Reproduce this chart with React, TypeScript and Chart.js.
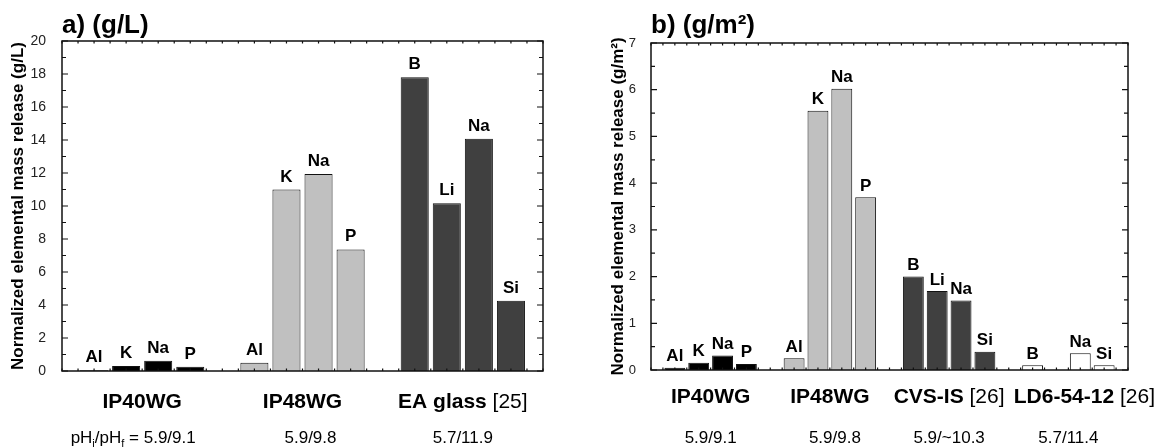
import React, { useEffect, useRef } from 'react';
import { Chart, registerables } from 'chart.js';

Chart.register(...registerables);

const FONT = "'Liberation Sans', Arial, Helvetica, sans-serif";

// ---------------- data: panel a) (g/L) ----------------
const leftGroups = ['IP40WG', 'IP48WG', 'EA glass'];
const leftRefs = ['', '', '[25]'];
const leftPh = ['5.9/9.1', '5.9/9.8', '5.7/11.9'];
const leftElements = [
  ['Al', 'K', 'Na', 'P'],
  ['Al', 'K', 'Na', 'P'],
  ['B', 'Li', 'Na', 'Si'],
];
const leftValues = [
  [0.05, 0.3, 0.62, 0.26],
  [0.5, 11.0, 11.94, 7.37],
  [17.8, 10.16, 14.08, 4.26],
];
const leftYMax = 20;
const leftYMajor = 2;
const leftYMinor = 1;

// ---------------- data: panel b) (g/m2) ----------------
const rightGroups = ['IP40WG', 'IP48WG', 'CVS-IS', 'LD6-54-12'];
const rightRefs = ['', '', '[26]', '[26]'];
const rightPh = ['5.9/9.1', '5.9/9.8', '5.9/~10.3', '5.7/11.4'];
const rightElements = [
  ['Al', 'K', 'Na', 'P'],
  ['Al', 'K', 'Na', 'P'],
  ['B', 'Li', 'Na', 'Si'],
  ['B', 'Li', 'Na', 'Si'],
];
const rightValues: (number | null)[][] = [
  [0.05, 0.155, 0.31, 0.13],
  [0.25, 5.55, 6.02, 3.7],
  [2.0, 1.69, 1.49, 0.39],
  [0.1, null, 0.36, 0.1],
];
const rightYMax = 7;
const rightYMajor = 1;
const rightYMinor = 0.5;

// ---------------- styles / layout ----------------
const leftColors = ['#000000', '#c0c0c0', '#404040'];
const rightColors = ['#000000', '#c0c0c0', '#404040', '#ffffff'];

type Spec = {
  key: string;
  canvasLeft: number;
  canvasWidth: number;
  groups: string[];
  refs: string[];
  ph: string[];
  elements: string[][];
  values: (number | null)[][];
  colors: string[];
  title: string;
  yTitle: string;
  yMax: number;
  yMajor: number;
  yMinor: number;
  padding: { left: number; right: number; top: number; bottom: number };
  yWidth: number;
  tickFont: number;
  tickPad: number;
  labelFont: number;
  labelGap: number;
  groupFont: number;
  groupBaseline: number;
  phFont: number;
  phBaseline: number;
  phPrefixFirst: boolean;
  phNudge: number[];
  groupNudge: number[];
};

const leftSpec: Spec = {
  key: 'a',
  canvasLeft: 0,
  canvasWidth: 584,
  groups: leftGroups,
  refs: leftRefs,
  ph: leftPh,
  elements: leftElements,
  values: leftValues,
  colors: leftColors,
  title: 'a) (g/L)',
  yTitle: 'Normalized elemental mass release (g/L)',
  yMax: leftYMax,
  yMajor: leftYMajor,
  yMinor: leftYMinor,
  padding: { left: 4, right: 41, top: 41, bottom: 77 },
  yWidth: 58,
  tickFont: 14,
  tickPad: 8,
  labelFont: 17,
  labelGap: 8,
  groupFont: 21,
  groupBaseline: 408,
  phFont: 17,
  phBaseline: 443,
  phPrefixFirst: true,
  phNudge: [-9, 8, 0],
  groupNudge: [0, 0, 0],
};

const rightSpec: Spec = {
  key: 'b',
  canvasLeft: 584,
  canvasWidth: 583,
  groups: rightGroups,
  refs: rightRefs,
  ph: rightPh,
  elements: rightElements,
  values: rightValues,
  colors: rightColors,
  title: 'b) (g/m\u00B2)',
  yTitle: 'Normalized elemental mass release (g/m\u00B2)',
  yMax: rightYMax,
  yMajor: rightYMajor,
  yMinor: rightYMinor,
  padding: { left: 20, right: 39, top: 43, bottom: 78 },
  yWidth: 47,
  tickFont: 13,
  tickPad: 7,
  labelFont: 17,
  labelGap: 6.5,
  groupFont: 21,
  groupBaseline: 403,
  phFont: 17,
  phBaseline: 443,
  phPrefixFirst: false,
  phNudge: [0, 5, 0, 0],
  groupNudge: [0, 0, 0, 16],
};

type Run = { text: string; font: string; dy?: number };

function drawRuns(ctx: CanvasRenderingContext2D, runs: Run[], cx: number, baseline: number) {
  let total = 0;
  const widths = runs.map((r) => {
    ctx.font = r.font;
    const w = ctx.measureText(r.text).width;
    total += w;
    return w;
  });
  let x = cx - total / 2;
  ctx.textAlign = 'left';
  ctx.textBaseline = 'alphabetic';
  runs.forEach((r, i) => {
    ctx.font = r.font;
    ctx.fillText(r.text, x, baseline + (r.dy || 0));
    x += widths[i];
  });
}

function makeDecor(spec: Spec, labels: string[], vals: (number | null)[]) {
  return {
    id: 'decor_' + spec.key,
    afterDraw(chart: any) {
      const { ctx, chartArea: a, scales } = chart;
      const xs = scales.x;
      const ys = scales.y;
      ctx.save();

      // frame
      ctx.strokeStyle = '#111';
      ctx.lineWidth = 1.5;
      ctx.strokeRect(a.left, a.top, a.right - a.left, a.bottom - a.top);

      // y ticks (inside, both sides)
      ctx.lineWidth = 1.2;
      ctx.beginPath();
      const n = Math.round(spec.yMax / spec.yMinor);
      for (let i = 0; i <= n; i++) {
        const v = i * spec.yMinor;
        const y = ys.getPixelForValue(v);
        const ratio = v / spec.yMajor;
        const major = Math.abs(ratio - Math.round(ratio)) < 1e-6;
        const len = major ? 6 : 4;
        ctx.moveTo(a.left, y);
        ctx.lineTo(a.left + len, y);
        ctx.moveTo(a.right, y);
        ctx.lineTo(a.right - len, y);
      }
      // x ticks (small, top and bottom)
      const xmin = xs.min;
      const xmax = xs.max;
      const nx = Math.round((xmax - xmin) / 0.5);
      for (let i = 0; i <= nx; i++) {
        const x = xs.getPixelForValue(xmin + i * 0.5);
        ctx.moveTo(x, a.top);
        ctx.lineTo(x, a.top + 2.5);
        ctx.moveTo(x, a.bottom);
        ctx.lineTo(x, a.bottom - 2.5);
      }
      ctx.stroke();

      // bar labels
      ctx.fillStyle = '#000';
      ctx.font = `bold ${spec.labelFont}px ${FONT}`;
      ctx.textAlign = 'center';
      ctx.textBaseline = 'alphabetic';
      const meta = chart.getDatasetMeta(0);
      meta.data.forEach((el: any, i: number) => {
        if (vals[i] === null || vals[i] === undefined) return;
        ctx.fillText(labels[i], el.x, el.y - spec.labelGap);
      });

      // panel title
      ctx.font = `bold 26px ${FONT}`;
      ctx.textAlign = 'left';
      ctx.fillText(spec.title, a.left, 33);

      // group labels and pH rows
      const bold = `bold ${spec.groupFont}px ${FONT}`;
      const reg = `${spec.groupFont}px ${FONT}`;
      const phF = `${spec.phFont}px ${FONT}`;
      const subF = `${Math.round(spec.phFont * 0.62)}px ${FONT}`;
      let start = 0;
      spec.groups.forEach((g, gi) => {
        const cnt = spec.elements[gi].length;
        const center = xs.getPixelForValue(start + (cnt - 1) / 2);
        start += cnt + 1;
        const runs: Run[] = [{ text: g, font: bold }];
        if (spec.refs[gi]) runs.push({ text: ' ' + spec.refs[gi], font: reg });
        drawRuns(ctx, runs, center + spec.groupNudge[gi], spec.groupBaseline);
        let phRuns: Run[];
        if (gi === 0 && spec.phPrefixFirst) {
          phRuns = [
            { text: 'pH', font: phF },
            { text: 'i', font: subF, dy: 4 },
            { text: '/pH', font: phF },
            { text: 'f', font: subF, dy: 4 },
            { text: ' = ' + spec.ph[gi], font: phF },
          ];
        } else {
          phRuns = [{ text: spec.ph[gi], font: phF }];
        }
        drawRuns(ctx, phRuns, center + spec.phNudge[gi], spec.phBaseline);
      });

      ctx.restore();
    },
  };
}

function buildConfig(spec: Spec): any {
  const points: { x: number; y: number | null }[] = [];
  const labels: string[] = [];
  const vals: (number | null)[] = [];
  const bg: string[] = [];
  let start = 0;
  spec.groups.forEach((_, gi) => {
    spec.elements[gi].forEach((el, j) => {
      const v = spec.values[gi][j];
      points.push({ x: start + j, y: v });
      labels.push(el);
      vals.push(v);
      bg.push(spec.colors[gi]);
    });
    start += spec.elements[gi].length + 1;
  });
  const xMax = start - 1;

  return {
    type: 'bar',
    data: {
      datasets: [
        {
          data: points,
          backgroundColor: bg,
          borderColor: '#111',
          borderWidth: 1,
          categoryPercentage: 1,
          barPercentage: 0.875,
        },
      ],
    },
    options: {
      responsive: false,
      animation: false,
      devicePixelRatio: 1,
      layout: { padding: spec.padding },
      plugins: {
        legend: { display: false },
        tooltip: { enabled: false },
        title: { display: false },
      },
      events: [],
      scales: {
        x: {
          type: 'linear',
          display: false,
          offset: false,
          min: -1,
          max: xMax,
          ticks: { stepSize: 5 },
        },
        y: {
          type: 'linear',
          min: 0,
          max: spec.yMax,
          afterFit: (s: any) => {
            s.width = spec.yWidth;
          },
          grid: { display: false },
          border: { display: false },
          ticks: {
            stepSize: spec.yMajor,
            color: '#222',
            padding: spec.tickPad,
            font: { family: FONT, size: spec.tickFont },
          },
          title: {
            display: true,
            text: spec.yTitle,
            color: '#000',
            font: { family: FONT, size: 17, weight: 'bold' },
            padding: { top: 4, bottom: 0 },
          },
        },
      },
    },
    plugins: [makeDecor(spec, labels, vals)],
  };
}

function Panel({ spec }: { spec: Spec }) {
  const ref = useRef<HTMLCanvasElement>(null);
  useEffect(() => {
    if (!ref.current) return;
    const chart = new Chart(ref.current, buildConfig(spec));
    return () => chart.destroy();
  }, [spec]);
  return (
    <canvas
      ref={ref}
      width={spec.canvasWidth}
      height={448}
      style={{
        position: 'absolute',
        left: spec.canvasLeft,
        top: 0,
        width: spec.canvasWidth,
        height: 448,
        display: 'block',
      }}
    />
  );
}

export default function App() {
  Chart.defaults.font.family = FONT;
  return (
    <div
      style={{
        position: 'fixed',
        left: 0,
        top: 0,
        width: 1167,
        height: 448,
        background: '#ffffff',
        overflow: 'hidden',
      }}
    >
      <Panel spec={leftSpec} />
      <Panel spec={rightSpec} />
    </div>
  );
}
